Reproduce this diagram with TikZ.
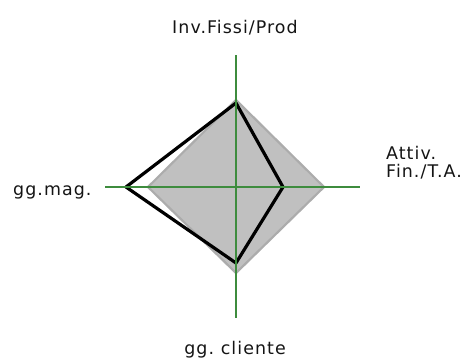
\documentclass[tikz,border=0pt]{standalone}
\usepackage{fontspec}
\setmainfont{DejaVu Sans}
\newfontfamily\labelfont[LetterSpace=6]{DejaVu Sans}
\definecolor{axisgreen}{RGB}{62,140,62}
\definecolor{areagray}{RGB}{192,192,192}
\definecolor{areaedge}{RGB}{172,172,172}
\definecolor{labeltext}{RGB}{20,20,20}
\begin{document}
\begin{tikzpicture}[x=1bp,y=-1bp,
  axisline/.style={draw=axisgreen,line width=1.3bp},
  reference/.style={fill=areagray,draw=areaedge,line width=2.2bp,line join=round},
  actual/.style={draw=black,line width=3.2bp,line join=round},
  axislabel/.style={inner sep=0pt,text=labeltext,font=\labelfont\fontsize{17.5}{18}\selectfont}]
\useasboundingbox (0,0) rectangle (462,359);
% axis ends and centre
\coordinate (o) at (236,187);
\coordinate (ntop) at (236,55);
\coordinate (nbot) at (236,318);
\coordinate (nleft) at (105,187);
\coordinate (nright) at (360,187);
% reference profile
\coordinate (rt) at (236,100);
\coordinate (rr) at (324,187);
\coordinate (rb) at (236,273);
\coordinate (rl) at (148,187);
% actual profile
\coordinate (at) at (236,103);
\coordinate (ar) at (283,187);
\coordinate (ab) at (236,263);
\coordinate (al) at (126,187);
\path[reference] (rt) -- (rr) -- (rb) -- (rl) -- cycle;
\path[actual] (at) -- (ar) -- (ab) -- (al) -- cycle;
\draw[axisline] (ntop) -- (nbot);
\draw[axisline] (nleft) -- (nright);
% labels
\node[axislabel,anchor=base] (lt) at (235,33) {Inv.Fissi/Prod};
\node[axislabel,anchor=base west] (ll) at (13,195) {gg.mag.};
\node[axislabel,anchor=base west,align=left] (lr) at (386,177) {Attiv.\\Fin./T.A.};
\node[axislabel,anchor=base] (lb) at (235,354) {gg.\hspace{-2bp} cliente};
\end{tikzpicture}
\end{document}
